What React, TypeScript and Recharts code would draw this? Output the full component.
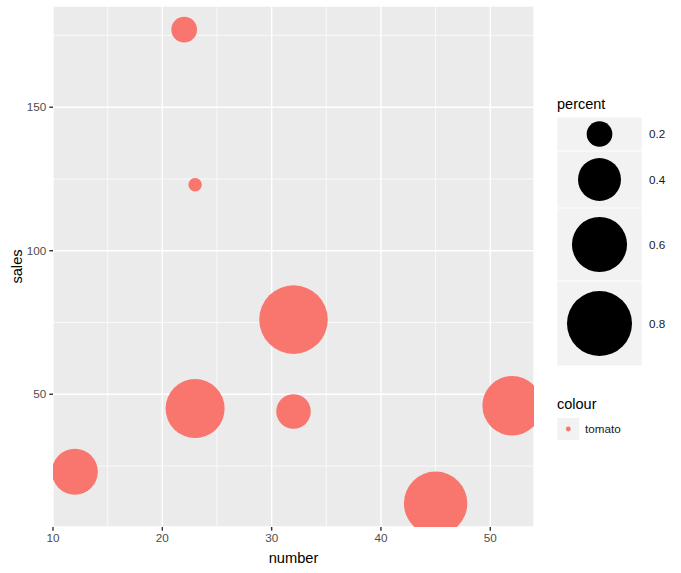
import React from 'react';
import { ScatterChart, Scatter, XAxis, YAxis, ZAxis, CartesianGrid, Label } from 'recharts';

// ---- data ----
const numbers = [22, 23, 32, 23, 32, 52, 12, 45];
const sales = [177, 123, 76, 45, 44, 46, 23, 12];
const percent = [0.2, 0.12, 0.88, 0.675, 0.29, 0.685, 0.445, 0.765];
const xTicks = [10, 20, 30, 40, 50];
const xMinor = [15, 25, 35, 45];
const yTicks = [50, 100, 150];
const yMinor = [25, 75, 125, 175];
const sizeBreaks = [0.2, 0.4, 0.6, 0.8];
const colourLabels = ['tomato'];

const data = numbers.map((n, i) => ({ number: n, sales: sales[i], percent: percent[i] }));

// ggplot-like 5% expansion
function expand(vals: number[]): [number, number] {
  const mn = Math.min(...vals);
  const mx = Math.max(...vals);
  const d = (mx - mn) * 0.05;
  return [mn - d, mx + d];
}

// size scale: area linear in percent
const Z_DOMAIN: [number, number] = [0.1, 1.0];
const r2 = (z: number) => -133 + 1487 * z;
const Z_RANGE: [number, number] = [Math.PI * r2(Z_DOMAIN[0]), Math.PI * r2(Z_DOMAIN[1])];
const radiusFor = (z: number) => {
  const area = Z_RANGE[0] + ((z - Z_DOMAIN[0]) / (Z_DOMAIN[1] - Z_DOMAIN[0])) * (Z_RANGE[1] - Z_RANGE[0]);
  return Math.sqrt(Math.max(area, 0) / Math.PI);
};

const BUBBLE = '#F8766D';
const FONT = '"Liberation Sans", Arial, Helvetica, sans-serif';

const KEY_X = 557.3;
const KEY_W = 84.4;
const KEY_HEIGHTS = [33, 56, 72, 84];

function SizeLegend() {
  let y = 117.5;
  const rows = sizeBreaks.map((b, i) => {
    const h = KEY_HEIGHTS[i];
    const cy = y + h / 2;
    const row = (
      <g key={b}>
        <rect x={KEY_X} y={y} width={KEY_W} height={h} fill="#F2F2F2" />
        <circle cx={KEY_X + KEY_W / 2} cy={cy} r={radiusFor(b)} fill="#000000" />
        <text x={649} y={cy} dy="0.35em" fontSize={11.7} fill="#1A1A1A">{b.toFixed(1)}</text>
      </g>
    );
    y += h + 1;
    return row;
  });
  return (
    <g>
      <text x={557} y={109} fontSize={14.5} fill="#000">percent</text>
      {rows}
      <text x={557} y={409} fontSize={14.5} fill="#000">colour</text>
      {colourLabels.map((c, i) => (
        <g key={c}>
          <rect x={557.3} y={418 + i * 23} width={22} height={22} fill="#F2F2F2" />
          <circle cx={568.3} cy={429 + i * 23} r={2.4} fill={BUBBLE} />
          <text x={585} y={429 + i * 23} dy="0.35em" fontSize={11.7} fill="#1A1A1A">{c}</text>
        </g>
      ))}
    </g>
  );
}

export default function App() {
  const xDomain = expand(numbers);
  const yDomain = expand(sales);
  return (
    <div style={{ position: 'absolute', left: 0, top: 0, width: 681, height: 573, background: '#fff', fontFamily: FONT }}>
      <ScatterChart width={681} height={573} margin={{ top: 6, right: 147, bottom: 0, left: 0 }}>
        <CartesianGrid fill="#EBEBEB" stroke="#FFFFFF" strokeWidth={0.71} verticalValues={xMinor} horizontalValues={yMinor} />
        <CartesianGrid stroke="#FFFFFF" strokeWidth={1.42} fill="none" />
        <XAxis
          type="number"
          dataKey="number"
          domain={xDomain}
          ticks={xTicks}
          allowDataOverflow
          axisLine={false}
          tickSize={3.7}
          tickMargin={3}
          tickLine={{ stroke: '#333333', strokeWidth: 1.42 }}
          tick={{ fill: '#4D4D4D', fontSize: 11.7 }}
          height={46}
        >
          <Label value="number" position="insideBottom" offset={10} fill="#000" fontSize={14.67} />
        </XAxis>
        <YAxis
          type="number"
          dataKey="sales"
          domain={yDomain}
          ticks={yTicks}
          allowDataOverflow
          axisLine={false}
          tickSize={3.7}
          tickMargin={3}
          tickLine={{ stroke: '#333333', strokeWidth: 1.42 }}
          tick={{ fill: '#4D4D4D', fontSize: 11.7 }}
          width={53}
        >
          <Label value="sales" angle={-90} position="insideLeft" offset={17} fill="#000" fontSize={14.67} style={{ textAnchor: 'middle' }} />
        </YAxis>
        <ZAxis type="number" dataKey="percent" domain={Z_DOMAIN} range={Z_RANGE} />
        <Scatter data={data} fill={BUBBLE} isAnimationActive={false} />
      </ScatterChart>
      <svg width={681} height={573} style={{ position: 'absolute', left: 0, top: 0, pointerEvents: 'none', fontFamily: FONT }}>
        <SizeLegend />
      </svg>
    </div>
  );
}
